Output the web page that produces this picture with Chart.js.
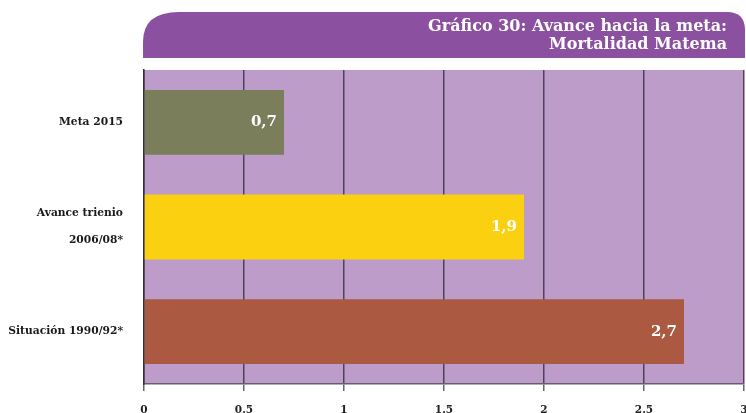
<!DOCTYPE html>
<html>
<head>
<meta charset="utf-8">
<script src="https://cdn.jsdelivr.net/npm/chart.js@4.4.1/dist/chart.umd.min.js"></script>
<style>
    html, body { margin: 0; padding: 0; background: #fff; }
    canvas { display: block; }
</style>
</head>
<body>
<canvas id="chart-meta" width="746" height="413"></canvas>
<script>
// Chart data
const categories = ['Meta 2015', ['Avance trienio', '2006/08*'], 'Situación 1990/92*'];
const values = [0.7, 1.9, 2.7];
const barColors = ['#7a7e5b', '#fad010', '#ab5940'];
const titleLines = ['Gráfico 30: Avance hacia la meta:', 'Mortalidad Matema'];
const xTicks = [0, 0.5, 1, 1.5, 2, 2.5, 3];

// Purple title banner + plot background
const bannerPlugin = {
    id: 'banner',
    beforeDraw(chart) {
        const { ctx, chartArea } = chart;
        ctx.save();
        const x = 143, y = 12, w = 602, h = 46, rl = 30, rr = 18;
        ctx.fillStyle = '#8b51a0';
        ctx.beginPath();
        ctx.moveTo(x, y + h);
        ctx.lineTo(x, y + rl);
        ctx.quadraticCurveTo(x, y, x + rl + 6, y);
        ctx.lineTo(x + w - rr, y);
        ctx.quadraticCurveTo(x + w, y, x + w, y + rr);
        ctx.lineTo(x + w, y + h);
        ctx.closePath();
        ctx.fill();

        ctx.fillStyle = '#ffffff';
        ctx.font = 'bold 16px "DejaVu Serif"';
        ctx.textAlign = 'right';
        ctx.textBaseline = 'alphabetic';
        ctx.fillText(titleLines[0], 727, 31);
        ctx.fillText(titleLines[1], 727, 49);

        ctx.fillStyle = '#bd9cca';
        ctx.fillRect(chartArea.left, chartArea.top, chartArea.right - chartArea.left, chartArea.bottom - chartArea.top);
        ctx.restore();
    }
};

// Value labels at the end of each bar
const valueLabels = {
    id: 'valueLabels',
    afterDatasetsDraw(chart) {
        const { ctx } = chart;
        const meta = chart.getDatasetMeta(0);
        ctx.save();
        ctx.fillStyle = '#ffffff';
        ctx.font = 'bold 15px "DejaVu Serif"';
        ctx.textAlign = 'right';
        ctx.textBaseline = 'middle';
        meta.data.forEach((bar, i) => {
            ctx.fillText(values[i].toString().replace('.', ','), bar.x - 7, bar.y);
        });
        ctx.restore();
    }
};

const ctx = document.getElementById('chart-meta').getContext('2d');

new Chart(ctx, {
    type: 'bar',
    data: {
        labels: categories,
        datasets: [{
            data: values,
            backgroundColor: barColors,
            borderWidth: 0,
            categoryPercentage: 1,
            barPercentage: 0.62
        }]
    },
    options: {
        indexAxis: 'y',
        responsive: false,
        animation: false,
        layout: { padding: { top: 70, left: 0, right: 2, bottom: 0 } },
        plugins: {
            legend: { display: false },
            tooltip: { enabled: false }
        },
        scales: {
            x: {
                min: 0,
                max: 3,
                afterBuildTicks: scale => { scale.ticks = xTicks.map(v => ({ value: v })); },
                afterFit: scale => { scale.height = 29; scale.paddingLeft = 0; scale.paddingRight = 0; },
                grid: { color: '#4f4257', lineWidth: 1.5, tickLength: 7, tickColor: '#6b6070' },
                border: { color: '#6b5b70', width: 1.5 },
                ticks: {
                    color: '#222',
                    padding: 13,
                    maxRotation: 0,
                    autoSkip: false,
                    callback: v => String(v),
                    font: { family: '"DejaVu Serif"', weight: 'bold', size: 10.5 }
                }
            },
            y: {
                afterFit: scale => { scale.width = 144; scale.paddingTop = 0; scale.paddingBottom = 0; },
                grid: { display: false, drawTicks: false },
                border: { color: '#333', width: 1.5 },
                ticks: {
                    color: '#1a1a1a',
                    padding: 21,
                    font: { family: '"DejaVu Serif"', weight: 'bold', size: 10.7, lineHeight: 2.55 }
                }
            }
        }
    },
    plugins: [bannerPlugin, valueLabels]
});
</script>
</body>
</html>
